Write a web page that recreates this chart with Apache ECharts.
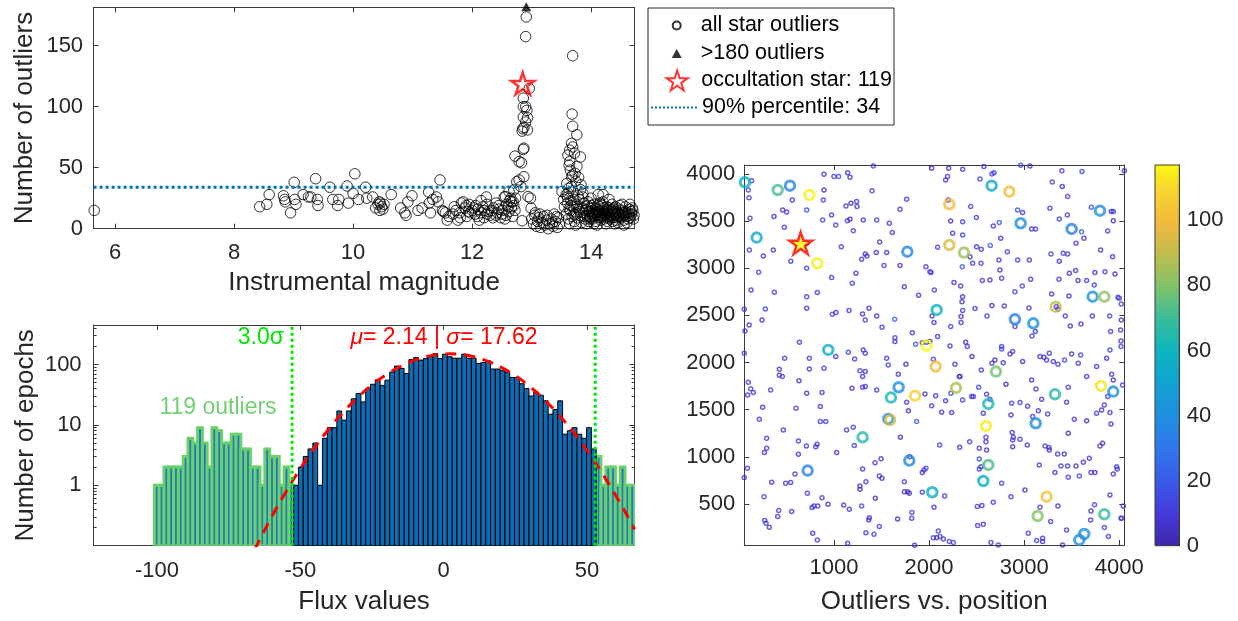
<!DOCTYPE html>
<html><head><meta charset="utf-8">
<script src="https://cdn.jsdelivr.net/npm/echarts/dist/echarts.min.js"></script>
<style>html,body{margin:0;padding:0;background:#fff}#c{width:1238px;height:621px}</style>
</head><body><div id="c"></div>
<script>
// ===================== DATA =====================
// --- Panel 1: outliers vs instrumental magnitude
const magRange = [5.64, 14.73];
const outRange = [0, 181.5];
const magTicks = [6, 8, 10, 12, 14];
const outTicks = [0, 50, 100, 150];
const starOutliers = [
[5.65,15],
[8.43,18],[8.55,20],[8.59,28],[8.83,27],[8.85,24],[8.86,22],[8.95,13],[9.01,38],[9.02,24],[9.04,20],[9.16,28],[9.25,26],[9.29,26],[9.37,41],[9.4,24],[9.41,19],[9.61,34],[9.66,24],[9.74,19],[9.76,24],[9.9,35],[9.92,21],[10.0,29],[10.03,45],[10.09,24],[10.21,34],[10.23,25],[10.33,26],
[10.38,17],[10.42,20],[10.44,22],[10.46,21],[10.48,18],[10.5,16],[10.45,15],[10.52,20],
[10.64,28],[10.8,17],[10.87,13],[10.89,11],[10.92,22],[10.99,27],[11.09,15],[11.16,17],[11.27,30],[11.28,21],[11.3,13],[11.34,24],[11.4,26],[11.43,22],[11.46,40],[11.5,15],[11.52,14],[11.55,13],[11.58,7],[11.61,10],
[11.70,18],[11.73,15],[11.76,7],[11.79,13],[11.82,21],[11.85,22],[11.88,17],[11.91,10],[11.94,14],[11.97,13],[12.0,15],[12.03,17],[12.06,19],[12.09,10],[12.12,7],[12.15,13],[12.18,18],[12.21,15],[12.24,26],[12.27,14],[12.30,11],[12.36,17],[12.42,13],[12.45,19],[12.48,9],[12.51,15],[12.54,26],[12.57,11],[12.60,18],[12.63,23],[12.66,17],[12.69,22],[12.72,15],
[11.68,12],[11.8,9],[11.9,19],[12.05,12],[12.1,16],[12.2,9],[12.25,20],[12.33,15],[12.4,21],[12.5,12],[12.55,8],[12.62,14],[12.68,10],[12.25,12],[11.95,20],[12.15,23],[12.35,9],[12.45,16],[12.58,20],[12.7,19],[12.65,25],[12.4,11],
[12.91,173.6],[12.90,157.5],[12.96,115],[12.86,107],[12.86,100],[12.90,100],[12.92,97],[12.86,91.5],[12.93,91],[12.90,87.5],[12.85,82],[12.87,83],[12.93,81],[12.84,80],[12.87,66],[12.86,65],[12.72,59.5],[12.79,55],[12.83,54],[12.87,42.6],[12.79,40],[12.75,38.5],[12.82,34.5],[12.70,31.8],[12.62,30.5],[12.73,25],[12.66,22],[12.56,26.3],[12.98,25],[12.94,26.3],[12.99,16.8],[12.84,6.5],
[13.0,8],[13.03,4],[13.05,11],[13.08,2],[13.1,6],[13.12,9],[13.15,1],[13.18,5],[13.2,10],[13.22,3],[13.25,7],[13.28,0],[13.3,4],[13.33,8],[13.36,2],[13.38,12],[13.4,6],[13.43,1],[13.45,9],[13.47,4],[13.06,13],[13.14,12],[13.26,11],[13.35,5],[13.42,10],
[13.69,141.8],[13.68,94],[13.69,84],[13.76,77],[13.67,70],[13.69,67],[13.64,64.4],[13.61,60.3],[13.64,55],[13.76,51],[13.82,58.8],[13.69,44],[13.67,42.6],[13.73,45.4],[13.59,37],[13.83,36],[13.67,34.5],[13.51,30.4],[13.61,29],[13.74,39],[13.6,26],[13.86,29],[13.54,24],[13.71,24],
[13.55,18],[13.58,12],[13.6,21],[13.62,8],[13.65,15],[13.66,23],[13.68,10],[13.7,18],[13.72,6],[13.74,13],[13.75,20],[13.77,9],[13.79,16],[13.8,24],[13.82,11],[13.84,5],[13.85,17],[13.87,13],[13.88,21],[13.9,8],[13.91,15],[13.93,11],[13.94,19],[13.96,6],[13.97,14],[13.98,10],[14.0,17],[14.01,12],[14.02,8],[14.03,15],[14.05,20],[14.06,10],[14.07,13],[14.08,6],[14.1,16],[14.11,11],[14.12,14],[14.13,9],[14.14,18],[14.15,12],[14.16,7],[14.18,15],[14.19,10],[14.2,13],[14.21,17],[14.22,8],[14.23,12],[14.25,15],[14.26,10],[14.27,6],[14.28,13],[14.3,17],[14.31,11],[14.32,8],[14.33,14],[14.35,12],[14.36,16],[14.37,9],[14.38,13],[14.4,11],[14.41,18],[14.42,7],[14.44,14],[14.45,10],[14.46,16],[14.48,12],[14.5,9],[14.51,15],[14.52,20],[14.54,11],[14.55,7],[14.57,14],[14.58,18],[14.6,10],[14.62,13],[14.64,16],[14.66,9],[14.68,12],[14.7,15],[14.72,11],
[13.95,22],[14.05,4],[14.15,21],[14.25,4],[14.35,20],[14.45,5],[14.55,3],[14.65,20],[13.86,26],[14.0,25],[14.3,24],[14.1,3],[13.92,4],[14.4,4],[14.6,5],[14.2,22],[13.78,27],[14.12,19],[14.28,9],[14.38,17],[14.48,19],[14.08,17],[13.99,9],[14.22,14],[14.34,15],[14.42,12],[14.18,11],[14.26,18],[14.02,13],[14.14,14],[14.46,13],[14.56,12],[14.62,8],[14.69,17],[13.64,4],[13.58,28],[13.7,30],[13.82,32],[13.74,3],[14.12,28],[14.2,28],
[13.89,10],[13.93,16],[13.97,8],[14.04,11],[14.09,14],[14.17,9],[14.24,11],[14.29,15],[14.33,10],[14.39,14],[14.43,9],[14.47,11],[14.53,13],[14.59,12],[14.63,11],[14.67,14],[14.71,8],[14.01,19],[14.19,19],[14.36,6],[13.81,14],[13.76,18],[13.66,19],[13.71,12],[13.63,16],[13.65,48],[13.72,62],[13.62,33],[13.79,42],[13.63,52]
];
const aboveLimit = [[12.91, 182]];
const occultation = [[12.85, 119]];
const percentile90 = 34;

// --- Panel 2: flux histogram
const fluxRange = [-122.1, 66.6];
const fluxTicks = [-100, -50, 0, 50];
const epochRange = [0.1, 450];
const epochTicks = [1, 10, 100];
const epochMinor = [0.2,0.3,0.4,0.5,0.6,0.7,0.8,0.9,2,3,4,5,6,7,8,9,20,30,40,50,60,70,80,90,200,300,400];
const binStart = -100.9;
const binWidth = 1.675;
const countsOutLeft = [1,1,2,2,2,2,3,6,5,9,5,2,9,8,5,5,7,7,4,4,2,2,1,4,3,3,1,2,1];
const countsIn = [1,2,3,4,5,1,6,9,9,17,12,17,27,33,24,40,47,56,45,55,75,94,86,71,121,130,118,125,137,151,
                  125,148,134,127,127,148,127,127,104,108,115,84,84,79,74,61,61,
                  48,40,30,35,31,25,15,18,25,7,8,9,7,6,9,4];
const countsOutRight = [3,1,2,2,1,2,1,1];
const sigmaLimit = 52.86;
const sigmaMult = '3.0';
const fitMu = '2.14', fitSigma = '17.62';
const nOutliers = 119;
const fitCurve = [[-66,0.085],[-65,0.105],[-60,0.30],[-55,0.78],[-50,1.88],[-45,4.2],[-40,8.6],[-35,16.3],[-30,28.4],[-25,45.8],[-20,68],[-15,93],[-10,118],[-5,138],[0,149],[2,150],[5,148],[10,136],[15,115],[20,90],[25,65],[30,43],[35,26.4],[40,14.9],[45,7.8],[50,3.75],[55,1.67],[60,0.68],[65,0.26],[66.6,0.186]];

// --- Panel 3: outliers vs position
const posXRange = [57, 4053];
const posYRange = [65, 4095];
const posXTicks = [1000, 2000, 3000, 4000];
const posYTicks = [500, 1000, 1500, 2000, 2500, 3000, 3500, 4000];
const cbarRange = [0, 117];
const cbarTicks = [0, 20, 40, 60, 80, 100];
const posDots = [
[1414,4085,12],[2027,4060,9],[2206,4060,6],[2353,4050,10],[2577,4078,7],[2963,4092,14],[3061,4085,8],[4053,4035,5],[3397,4035,11],[3608,4025,13],[2661,4000,17],[2682,4014,9],[1144,4014,6],[1000,3972,12],[1049,3972,15],[1168,3965,8],[895,3996,10],[2174,3936,7],[2195,3972,11],[2535,3947,13],[134,3929,9],[3296,3915,12],[3401,3866,6],
[99,3830,14],[895,3830,8],[1400,3823,11],[106,3749,10],[562,3724,7],[888,3724,13],[1238,3707,9],[1179,3689,5],[1126,3661,12],[1242,3654,8],[1694,3625,10],[713,3618,15],[460,3618,6],[502,3597,9],[3271,3636,11],[2931,3618,18],[2984,3590,7],[3454,3565,10],[2497,3537,12],[369,3548,8],[3937,3601,9],[2437,3654,13],[2202,3724,6],[3457,3760,11],[3706,3646,14],[3916,3601,7],[1764,3731,9],[2353,3494,12],[2675,3449,8],[2738,3484,20],[3369,3523,10],[3937,3505,6],
[117,3530,11],[478,3434,9],[881,3512,13],[975,3565,7],[1018,3459,10],[1140,3505,12],[1168,3519,6],[1308,3512,9],[1449,3512,11],[1582,3477,8],[2227,3502,5],[1613,3378,10],[1203,3399,13],[716,3265,7],[110,3194,12],[362,3194,9],[1077,3229,11],[1329,3152,6],[1445,3166,8],[1480,3279,10],[1554,3166,5],[2090,3222,12],[2248,3371,9],[2353,3353,14],[2500,3229,7],[2549,3201,10],[2644,3240,19],[2753,3318,8],[2823,3176,11],[3078,3417,6],[3121,3417,9],[3282,3152,12],[3457,3152,8],[3545,3265,10],[3629,3318,7],[3604,3388,22],[3878,3396,11],[3804,3194,9],
[257,3130,10],[546,3074,8],[713,3000,12],[1291,3095,6],[1347,3130,9],[1526,3028,11],[1694,3028,7],[1967,3017,10],[2009,2964,13],[2020,2954,8],[2349,3017,20],[2458,3053,9],[2430,3123,6],[2546,3053,11],[2735,3088,10],[2745,2982,7],[2931,3088,12],[3054,3088,8],[3369,3074,9],[3411,3159,11],[3475,2947,6],[3541,2975,10],[3744,2954,8],[3850,2964,13],[3955,2940,7],[3930,3123,9],[208,2957,11],[975,2901,8],[1193,2841,12],[1231,2947,10],[1740,2805,7],[1890,2713,9],[2055,2770,11],[2262,2848,6],[2332,2812,10],[2353,2699,4],[2560,2869,12],[2640,2876,8],[2763,2894,9],[2903,2752,11],[3068,2883,7],[3366,2883,10],[3566,2869,6],[3657,2869,9],[3737,2823,12],[3471,2706,4],[3289,2727,8],[4000,2681,10],[2980,2812,13],[128,2770,9],[373,2745,11],
[57,2565,8],[278,2568,12],[243,2452,9],[108,2399,7],[64,2335,10],[713,2699,11],[713,2575,6],[825,2742,9],[982,2512,12],[1021,2530,8],[1158,2551,10],[1301,2516,7],[1329,2452,11],[1368,2575,9],[1449,2494,6],[1505,2374,10],[1638,2459,20],[1641,2264,12],[1641,2222,8],[1824,2317,9],[1929,2211,11],[2031,2494,7],[2052,2424,10],[2090,2275,6],[2227,2381,12],[2336,2487,9],[2336,2424,8],[2353,2551,11],[2346,2646,7],[2483,2572,10],[2609,2494,13],[2661,2604,6],[2791,2600,9],[2903,2381,11],[3050,2579,8],[3082,2282,12],[3117,2328,10],[3338,2593,7],[3355,2565,9],[3432,2494,11],[3485,2388,6],[3597,2409,10],[3717,2494,8],[3899,2494,12],[3909,2328,9],[4021,2452,7],[4021,2621,11],[3986,2692,10],
[57,2098,9],[481,2045,11],[425,1929,8],[457,1851,12],[425,1865,7],[637,2215,10],[741,2045,9],[741,1932,6],[895,1939,11],[1018,2063,8],[1151,2109,12],[1217,2038,10],[1308,2134,7],[1329,2098,9],[1273,1914,11],[1329,1904,6],[1301,1851,10],[1554,2045,8],[1571,1974,12],[1676,1875,9],[1757,1981,4],[1859,2194,21],[1974,2215,10],[2009,2222,7],[2045,2035,11],[2220,2176,9],[2272,1981,8],[2318,1851,12],[2385,2215,6],[2402,2169,10],[2451,2063,4],[2549,1921,9],[2661,1992,11],[2692,2027,7],[2763,2169,10],[2763,2144,13],[2780,1999,8],[2851,2091,9],[2879,2116,12],[2984,2010,6],[3166,2063,10],[3208,2056,8],[3236,2027,11],[3264,2098,9],[3306,2010,7],[3355,1981,10],[3425,2027,12],[3499,2091,6],[3569,1992,9],[3594,2080,11],[3657,1851,8],[3762,1957,10],[3867,2045,7],[3902,2134,12],[3920,1875,9],[3937,1815,6],[4018,2169,11],[4018,2229,8],[4035,1762,10],[4014,2346,9],
[99,1791,10],[92,1656,8],[124,1723,12],[152,1681,9],[334,1709,11],[250,1525,7],[215,1398,10],[467,1285,8],[600,1515,12],[632,1808,9],[713,1674,6],[874,1681,11],[857,1533,8],[857,1374,10],[913,1374,12],[1189,1727,7],[1301,1738,9],[1329,1745,11],[1449,1709,8],[1764,1578,10],[1782,1490,6],[1869,1374,20],[1957,1667,9],[2027,1543,11],[2069,1649,8],[2132,1472,10],[2174,1596,7],[2230,1674,12],[2237,1469,9],[2325,1851,6],[2353,1603,11],[2448,1639,8],[2465,1639,10],[2521,1738,13],[2570,1462,7],[2605,1663,9],[2640,1610,11],[2809,1769,4],[2868,1568,10],[2861,1444,8],[2956,1575,12],[3036,1536,9],[3078,1815,6],[3124,1720,11],[3089,1427,8],[3149,1490,10],[3184,1610,7],[3247,1455,12],[3446,1578,9],[3464,1738,11],[3527,1398,8],[3657,1384,4],[3762,1462,10],[3815,1497,7],[3843,1550,12],[3878,1639,9],[3902,1469,11],[3913,1349,8],[3797,1116,10],[3825,1144,6],
[292,1197,9],[292,1091,11],[268,1045,8],[626,1168,12],[626,1027,7],[710,1115,10],[808,1108,9],[822,1133,6],[590,818,11],[1203,1313,8],[1133,1285,10],[1214,1119,12],[1028,1045,7],[1301,871,9],[1432,938,11],[1495,981,8],[1698,1207,4],[1796,1002,10],[1947,861,9],[2111,1126,12],[2322,1101,7],[2427,1161,10],[2528,1091,8],[2598,1207,11],[2598,1161,9],[2605,1073,6],[2528,978,12],[2546,896,8],[2528,871,10],[2875,1257,7],[2886,1207,11],[2879,1179,9],[2879,1108,4],[2956,1186,10],[3033,1126,8],[3219,1115,12],[3261,1098,9],[3264,1073,6],[3352,1031,11],[3422,1031,8],[3464,1250,4],[3159,914,10],[3324,833,7],[3387,903,12],[3457,903,9],[3545,903,11],[3622,942,8],[3685,984,10],[3744,833,6],[3972,896,12],[3979,871,9],[3937,818,7],
[89,879,10],[57,780,8],[264,578,12],[345,730,9],[492,720,11],[544,727,7],[720,613,10],[769,462,8],[790,479,12],[829,479,9],[874,567,11],[937,497,6],[1102,490,10],[1161,444,8],[1291,479,12],[1273,691,9],[1273,656,7],[1336,737,11],[1435,560,4],[1477,797,10],[1505,773,8],[1740,737,12],[1740,631,9],[1775,631,4],[1792,613,6],[1820,409,11],[1929,833,8],[1929,624,10],[1967,878,12],[2052,465,9],[2164,585,7],[2507,472,11],[2556,483,8],[2675,518,10],[2763,720,12],[2861,578,9],[3008,649,7],[3166,465,11],[3355,479,8],[3464,783,10],[3580,797,12],[3703,833,9],[3703,426,7],[3902,596,11],[4042,479,8],[4025,348,10],[3740,493,12],
[271,324,9],[285,296,11],[320,253,8],[408,366,10],[418,430,12],[555,419,7],[776,189,9],[825,119,11],[1144,83,8],[1336,196,10],[1421,179,12],[1365,331,9],[1372,355,7],[1477,260,11],[1669,341,4],[1817,348,10],[1848,63,8],[2045,143,12],[2097,214,9],[2080,143,7],[2115,154,11],[2150,129,8],[2213,101,10],[2255,91,12],[2511,271,9],[2570,285,7],[2651,91,11],[2728,66,8],[3043,189,10],[3131,112,12],[3194,136,9],[3194,101,7],[3278,313,11],[3404,66,4],[3446,225,10],[3699,331,8],[3843,250,12],[3885,154,9],[4018,348,11]
];
const posRings = [
[64,3912,58],[408,3830,72],[537,3876,35],[741,3777,115],[187,3325,55],[825,3053,114],[1771,3176,37],[2658,3876,53],[2844,3813,100],[2213,3678,101],[2213,3247,95],[2367,3166,84],[2963,3477,40],[3499,3417,33],[3797,3611,40],[3720,2699,42],[3843,2699,82],[3331,2593,90],[2080,2558,57],[2903,2459,35],[3096,2416,40],[940,2134,55],[1974,2179,117],[2069,1957,100],[2703,1904,78],[1680,1738,40],[1599,1628,62],[1852,1649,108],[2283,1731,86],[2623,1561,62],[3324,1663,65],[3808,1752,112],[3937,1692,40],[1571,1402,38],[1589,1391,92],[1301,1207,65],[2598,1327,114],[3121,1356,40],[723,854,35],[1792,960,38],[2623,914,72],[2570,744,55],[2034,624,58],[3236,578,102],[3142,373,80],[3843,391,70],[3632,182,40],[3580,119,40]
];
const occPos = [[650, 3265, 119]];

// ===================== STYLE =====================
const FONT = 'Liberation Sans, Arial, Helvetica, sans-serif';
const TXT = '#262626';
const AX = '#3a3a3a';
const STAR = 'path://M0,-100L22.45,-30.9L95.1,-30.9L36.3,11.8L58.8,80.9L0,38.2L-58.8,80.9L-36.3,11.8L-95.1,-30.9L-22.45,-30.9Z';
const PARULA = [[0,'#3E26A8'],[0.08,'#4538D8'],[0.17,'#3B5AE8'],[0.26,'#2F78EC'],[0.34,'#1F8FDF'],[0.43,'#11A3D3'],[0.51,'#0DB5C0'],[0.6,'#3CBD98'],[0.68,'#80C26A'],[0.77,'#C4BD4C'],[0.85,'#F3B93D'],[0.94,'#F7D82D'],[1,'#F9FB0E']];
function hex(h){return [parseInt(h.slice(1,3),16),parseInt(h.slice(3,5),16),parseInt(h.slice(5,7),16)];}
function parula(v){
  const t = Math.max(0, Math.min(1, (v - cbarRange[0]) / (cbarRange[1] - cbarRange[0])));
  for (let i = 1; i < PARULA.length; i++) {
    if (t <= PARULA[i][0]) {
      const a = PARULA[i-1], b = PARULA[i];
      const f = (t - a[0]) / (b[0] - a[0]);
      const ca = hex(a[1]), cb = hex(b[1]);
      return 'rgb(' + ca.map((c, k) => Math.round(c + (cb[k] - c) * f)).join(',') + ')';
    }
  }
  return PARULA[PARULA.length-1][1];
}
const plainNum = v => String(Math.round(v * 1000) / 1000);

function axis(o){
  return {
    type: o.log ? 'log' : 'value', logBase: 10,
    gridIndex: o.grid, position: o.pos, min: o.min, max: o.max, show: o.show !== false,
    axisLine: {show: o.line !== false, onZero: false, lineStyle: {color: AX, width: 1}},
    axisTick: {show: !!o.ticks, inside: true, length: o.len || 5, customValues: o.ticks, lineStyle: {color: AX, width: 1}},
    axisLabel: {show: !!o.labels, customValues: o.ticks, margin: o.margin || 10, color: TXT, fontSize: 22, fontFamily: FONT,
                formatter: plainNum},
    splitLine: {show: false},
    name: o.name || '', nameLocation: 'middle', nameGap: o.nameGap || 20,
    nameTextStyle: {color: TXT, fontSize: 26, fontFamily: FONT}
  };
}

// histogram bins
const histOut = [], histIn = [];
countsOutLeft.forEach((c, i) => histOut.push([binStart + i*binWidth, binStart + (i+1)*binWidth, c]));
countsIn.forEach((c, i) => { const k = i + countsOutLeft.length; histIn.push([binStart + k*binWidth, binStart + (k+1)*binWidth, c]); });
countsOutRight.forEach((c, i) => { const k = i + countsOutLeft.length + countsIn.length; histOut.push([binStart + k*binWidth, binStart + (k+1)*binWidth, c]); });

function barRender(fill, stroke, lw){
  return function(params, api){
    const p0 = api.coord([api.value(0), api.value(2)]);
    const p1 = api.coord([api.value(1), epochRange[0]]);
    return {type: 'rect', shape: {x: p0[0], y: p0[1], width: p1[0]-p0[0], height: p1[1]-p0[1]},
            style: {fill: fill, stroke: stroke, lineWidth: lw}};
  };
}

const nameAll = 'all star outliers';
const nameAbove = '>180 outliers';
const nameOcc = 'occultation star: ' + nOutliers;
const namePct = '90% percentile: ' + percentile90;

const LEG_TEXT = {fontSize: 21.5, fontFamily: FONT, color: '#000'};
function legendItem(name, top, iw, ih, left, extra){
  return Object.assign({data: [name], orient: 'vertical', left: left, top: top, padding: 0, itemWidth: iw, itemHeight: ih,
          selectedMode: false, textStyle: LEG_TEXT}, extra || {});
}

const option = {
  animation: false,
  backgroundColor: '#fff',
  grid: [
    {left: 93.6, top: 7.3, width: 541, height: 221.4},
    {left: 93.6, top: 325, width: 541, height: 220.7},
    {left: 744.3, top: 165, width: 380, height: 380},
    {left: 1155, top: 165, width: 24.3, height: 380.7}
  ],
  xAxis: [
    axis({grid:0, pos:'bottom', min:magRange[0], max:magRange[1], ticks:magTicks, labels:true, margin:13, name:'Instrumental magnitude', nameGap:41.6}),
    axis({grid:0, pos:'top', min:magRange[0], max:magRange[1], ticks:magTicks}),
    axis({grid:1, pos:'bottom', min:fluxRange[0], max:fluxRange[1], ticks:fluxTicks, labels:true, margin:14, name:'Flux values', nameGap:43}),
    axis({grid:1, pos:'top', min:fluxRange[0], max:fluxRange[1], ticks:fluxTicks}),
    axis({grid:2, pos:'bottom', min:posXRange[0], max:posXRange[1], ticks:posXTicks, labels:true, margin:12, name:'Outliers vs. position', nameGap:43.7}),
    axis({grid:2, pos:'top', min:posXRange[0], max:posXRange[1], ticks:posXTicks}),
    axis({grid:3, pos:'bottom', min:0, max:1, show:false})
  ],
  yAxis: [
    axis({grid:0, pos:'left', min:outRange[0], max:outRange[1], ticks:outTicks, labels:true, margin:10.5, name:'Number of outliers', nameGap:56}),
    axis({grid:0, pos:'right', min:outRange[0], max:outRange[1], ticks:outTicks}),
    axis({grid:1, pos:'left', log:true, min:epochRange[0], max:epochRange[1], ticks:epochTicks, labels:true, margin:12, name:'Number of epochs', nameGap:55}),
    axis({grid:1, pos:'left', log:true, min:epochRange[0], max:epochRange[1], ticks:epochMinor, len:3, line:false}),
    axis({grid:1, pos:'right', log:true, min:epochRange[0], max:epochRange[1], ticks:epochTicks}),
    axis({grid:1, pos:'right', log:true, min:epochRange[0], max:epochRange[1], ticks:epochMinor, len:3, line:false}),
    axis({grid:2, pos:'left', min:posYRange[0], max:posYRange[1], ticks:posYTicks, labels:true, margin:9}),
    axis({grid:2, pos:'right', min:posYRange[0], max:posYRange[1], ticks:posYTicks}),
    axis({grid:3, pos:'right', min:cbarRange[0], max:cbarRange[1], ticks:cbarTicks, labels:true, margin:7.4, len:3})
  ],
  legend: [
    legendItem(nameAll, 14.5, 38, 8, 671.7),
    legendItem(nameAbove, 42.5, 10, 9, 671.7, {formatter: n => '{s|}' + n,
       textStyle: Object.assign({}, LEG_TEXT, {rich: {s: {width: 14, fontSize: 21.5}}})}),
    legendItem(nameOcc, 69.5, 38, 20, 665.7),
    legendItem(namePct, 96.5, 46, 14, 650, {itemStyle: {color: 'rgba(0,0,0,0)', borderWidth: 0, opacity: 0}})
  ],
  graphic: [
    {type: 'rect', z: 0, shape: {x: 648, y: 8, width: 246, height: 117}, style: {fill: '#fff', stroke: TXT, lineWidth: 1}},
    {type: 'text', z: 50, x: 218, y: 408, style: {text: nOutliers + ' outliers', fill: '#72CF72', fontSize: 23, fontFamily: FONT, align: 'center', verticalAlign: 'middle'}},
    {type: 'text', z: 50, x: 284, y: 338, style: {text: sigmaMult + 'σ', fill: '#00E600', fontSize: 23, fontFamily: FONT, align: 'right', verticalAlign: 'middle'}},
    {type: 'text', z: 50, x: 444, y: 338, style: {text: '{i|μ}= ' + fitMu + ' | {i|σ}= ' + fitSigma, fill: '#FF0000', fontSize: 23, fontFamily: FONT,
       align: 'center', verticalAlign: 'middle',
       rich: {i: {fontStyle: 'italic', fontSize: 23, fontFamily: FONT, fill: '#FF0000'}}}}
  ],
  series: [
    {name: nameAll, type: 'scatter', xAxisIndex: 0, yAxisIndex: 0, data: starOutliers, symbol: 'circle', symbolSize: 10.5, clip: false,
     itemStyle: {color: 'rgba(0,0,0,0)', borderColor: '#000', borderWidth: 1}, z: 3},
    {name: namePct, type: 'line', xAxisIndex: 0, yAxisIndex: 0, data: [[magRange[0], percentile90], [magRange[1], percentile90]],
     symbol: 'none', showSymbol: false, lineStyle: {color: '#0072BD', width: 3, type: 'dotted'}, itemStyle: {color: '#0072BD'}, z: 4},
    {name: nameAbove, type: 'scatter', xAxisIndex: 0, yAxisIndex: 0, data: aboveLimit, symbol: 'triangle', symbolSize: [10, 9], clip: false,
     itemStyle: {color: '#000'}, z: 5},
    {name: nameOcc, type: 'scatter', xAxisIndex: 0, yAxisIndex: 0, data: occultation, symbol: STAR, symbolSize: [23, 22], clip: false,
     itemStyle: {color: 'rgba(0,0,0,0)', borderColor: '#FF0000', borderWidth: 2.5}, z: 6},

    {name: 'outlier epochs', type: 'custom', xAxisIndex: 2, yAxisIndex: 2, data: histOut, encode: {x: [0, 1], y: 2},
     renderItem: barRender('#1F78C0', '#6BCF6B', 3), clip: true, z: 2},
    {name: 'epochs', type: 'custom', xAxisIndex: 2, yAxisIndex: 2, data: histIn, encode: {x: [0, 1], y: 2},
     renderItem: barRender('#0A6DB6', '#000', 1), clip: true, z: 3},
    {name: 'gaussian fit', type: 'line', xAxisIndex: 2, yAxisIndex: 2, data: fitCurve, smooth: true, symbol: 'none', clip: true,
     lineStyle: {color: '#FF0000', width: 3, type: [11, 8]}, z: 5},
    {name: 'limit low', type: 'line', xAxisIndex: 2, yAxisIndex: 2, data: [[-sigmaLimit, epochRange[0]], [-sigmaLimit, epochRange[1]]], symbol: 'none',
     lineStyle: {color: '#00E600', width: 3, type: 'dotted'}, z: 6},
    {name: 'limit high', type: 'line', xAxisIndex: 2, yAxisIndex: 2, data: [[sigmaLimit, epochRange[0]], [sigmaLimit, epochRange[1]]], symbol: 'none',
     lineStyle: {color: '#00E600', width: 3, type: 'dotted'}, z: 6},

    {name: 'stars', type: 'scatter', xAxisIndex: 4, yAxisIndex: 6, symbol: 'circle', symbolSize: 4, clip: false,
     data: posDots.map(d => ({value: d, itemStyle: {borderColor: parula(d[2])}})),
     itemStyle: {color: 'rgba(0,0,0,0)', borderWidth: 1.5}, z: 3},
    {name: 'outlier stars', type: 'scatter', xAxisIndex: 4, yAxisIndex: 6, symbol: 'circle', symbolSize: 9.5, clip: false,
     data: posRings.map(d => ({value: d, itemStyle: {borderColor: parula(d[2])}})),
     itemStyle: {color: 'rgba(0,0,0,0)', borderWidth: 3}, z: 4},
    {name: 'occultation position', type: 'scatter', xAxisIndex: 4, yAxisIndex: 6, symbol: STAR, symbolSize: [23, 22], clip: false,
     data: occPos.map(d => ({value: d, itemStyle: {color: parula(d[2])}})),
     itemStyle: {borderColor: '#FF0000', borderWidth: 2.5}, z: 5},

    {name: 'colorbar', type: 'custom', xAxisIndex: 6, yAxisIndex: 8, data: [[0, cbarRange[0], cbarRange[1]]], encode: {x: 0, y: [1, 2]},
     renderItem: function(params, api){
       const p0 = api.coord([0, cbarRange[1]]);
       const p1 = api.coord([1, cbarRange[0]]);
       return {type: 'rect', shape: {x: p0[0], y: p0[1], width: p1[0]-p0[0], height: p1[1]-p0[1]},
               style: {fill: {type: 'linear', x: 0, y: 1, x2: 0, y2: 0, colorStops: PARULA.map(s => ({offset: s[0], color: s[1]}))},
                       stroke: AX, lineWidth: 1}};
     }, z: 1}
  ]
};

const chart = echarts.init(document.getElementById('c'), null, {renderer: 'canvas', width: 1238, height: 621});
chart.setOption(option);
</script></body></html>
